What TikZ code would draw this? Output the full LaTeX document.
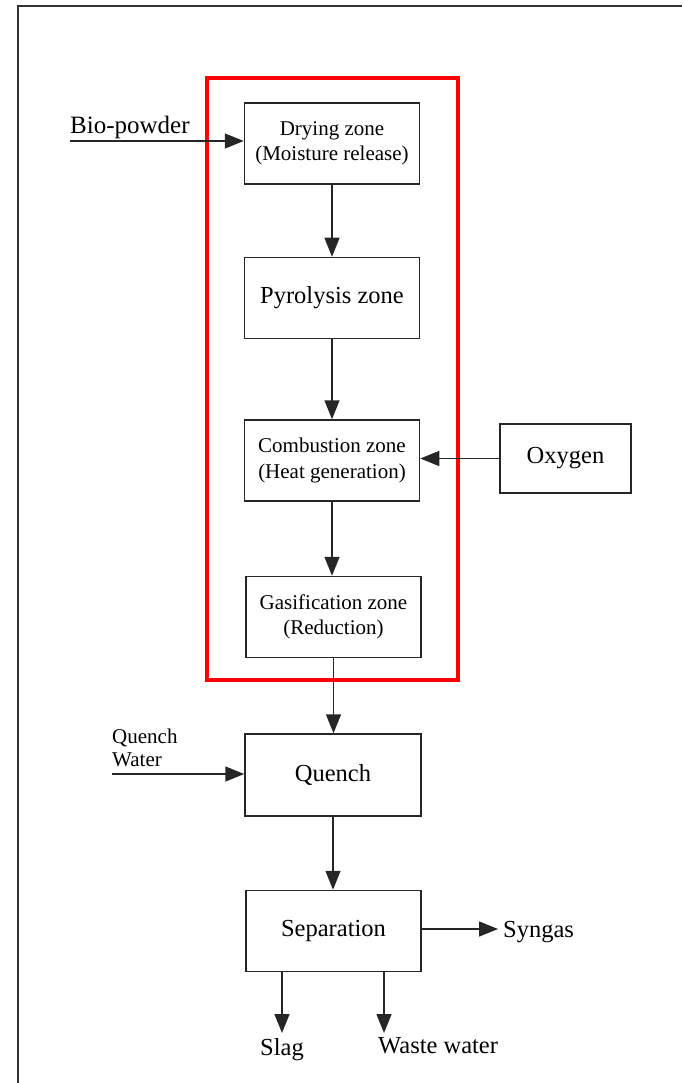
\documentclass[tikz,border=0pt]{standalone}
\usepackage{fontspec}
\setmainfont{Liberation Serif}
\usetikzlibrary{arrows.meta}
\begin{document}
\begin{tikzpicture}[x=1pt,y=-1pt,
  box/.style={draw=black!85,line width=1.5pt,minimum width=175pt,minimum height=81pt,align=center,inner sep=0pt},
  big/.style={font=\fontsize{24.5}{28}\selectfont},
  small/.style={font=\fontsize{21}{25.5}\selectfont},
  flow/.style={draw=black!85,line width=1.5pt,-{Triangle[length=19pt,width=15pt]}},
  lbl/.style={inner sep=0pt},
  reactor/.style={draw=red,line width=4pt}]
\useasboundingbox (0,0) rectangle (682,1083);
\draw[line width=2pt,black!80] (18,1083) -- (18,6) -- (682,6);
% reactor outline
\draw[reactor] (207,78) rectangle (458,680);
% boxes
\node[box,small] (dry) at (332,143.5) {Drying zone\\(Moisture release)};
\node[box,big] (pyr) at (332,298) {Pyrolysis zone};
\node[box,small] (comb) at (332,460.5) {Combustion zone\\(Heat generation)};
\node[box,small] (gas) at (333.5,617) {Gasification zone\\(Reduction)};
\node[box,big,minimum width=176pt,minimum height=82pt] (qu) at (333,775) {Quench};
\node[box,big] (sep) at (333.5,931) {Separation};
\node[box,big,minimum width=131pt,minimum height=69pt] (oxy) at (565.5,458.5) {Oxygen};
% main flow
\draw[flow] (dry.south) -- (dry.south |- pyr.north);
\draw[flow] (pyr.south) -- (pyr.south |- comb.north);
\draw[flow] (comb.south) -- (comb.south |- gas.north);
\draw[flow] (gas.south) -- (gas.south |- qu.north);
\draw[flow] (qu.south) -- (qu.south |- sep.north);
% oxygen
\draw[flow] (oxy.west) -- (comb.east |- oxy.west);
% bio-powder
\coordinate (bio) at (70,141);
\node[lbl,font=\fontsize{25}{29}\selectfont,anchor=base west] (biol) at (70,134) {Bio-powder};
\draw[flow] (bio) -- (bio -| dry.west);
% quench water
\coordinate (qw) at (112,774);
\node[lbl,small,anchor=base west] (qwl1) at (112,743) {Quench};
\node[lbl,small,anchor=base west] (qwl2) at (112,766) {Water};
\draw[flow] (qw) -- (qw -| qu.west);
% outputs
\coordinate (syn) at (498,929);
\node[lbl,big,anchor=base west] (syngas) at (503,937) {Syngas};
\draw[flow] (sep.east |- syn) -- (syn);
\coordinate (slagend) at (282,1033);
\node[lbl,big,anchor=base] (slag) at (282,1055) {Slag};
\draw[flow] (slagend |- sep.south) -- (slagend);
\coordinate (wwend) at (384,1033);
\node[lbl,big,anchor=base west] (ww) at (378,1053) {Waste water};
\draw[flow] (wwend |- sep.south) -- (wwend);
\end{tikzpicture}
\end{document}
